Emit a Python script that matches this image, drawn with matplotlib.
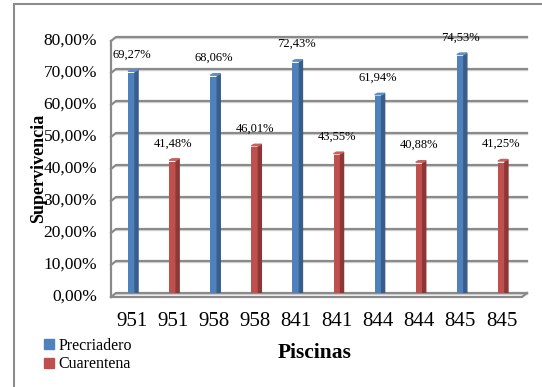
import numpy as np
import matplotlib
matplotlib.use("Agg")
import matplotlib.pyplot as plt
from matplotlib.patches import Polygon, Rectangle, Patch

piscinas = ["951", "951", "958", "958", "841", "841", "844", "844", "845", "845"]
precriadero = [69.27, np.nan, 68.06, np.nan, 72.43, np.nan, 61.94, np.nan, 74.53, np.nan]
cuarentena = [np.nan, 41.48, np.nan, 46.01, np.nan, 43.55, np.nan, 40.88, np.nan, 41.25]
y_ticks = [0, 10, 20, 30, 40, 50, 60, 70, 80]

colores = {
    "Precriadero": ("#4F81BD", "#385D8A", "#5F8FC8"),
    "Cuarentena": ("#C0504D", "#8A3735", "#CC605D"),
}

plt.rcParams["font.family"] = ["Liberation Serif", "DejaVu Serif"]

W, H, DPI = 542, 387, 100
fig = plt.figure(figsize=(W / DPI, H / DPI), dpi=DPI, facecolor="white")

# front plane of the 3d box: x 111..522 px, y (back wall) 37..293 px
ax_l, ax_r, ax_t, ax_b = 111, 522, 37, 293
ax = fig.add_axes([ax_l / W, (H - ax_b) / H, (ax_r - ax_l) / W, (ax_b - ax_t) / H])
ax.set_xlim(-0.5, len(piscinas) - 0.5)
ax.set_ylim(0, 80)
ax.axis("off")

# pixel -> data units
ux = len(piscinas) / (ax_r - ax_l)
uy = 80.0 / (ax_b - ax_t)
DX, DY = 5, 4  # wall depth in px
x0, x1 = -0.5, len(piscinas) - 0.5
grid_c = "#8a8a8a"

# back wall gridlines + side wall diagonals
for t in y_ticks:
    ax.plot([x0 + DX * ux, x1 + DX * ux], [t - 1.2 * uy, t - 1.2 * uy],
            color="#d6d6d6", lw=1.0, clip_on=False, zorder=1)
    ax.plot([x0, x0 + DX * ux, x1 + DX * ux], [t - DY * uy, t, t],
            color=grid_c, lw=1.6, clip_on=False, zorder=2)
    ax.text(x0 - 14 * ux, t - DY * uy, f"{t:.2f}%".replace(".", ","),
            ha="right", va="center", fontsize=12.5)

# front axis line and floor edge
ax.plot([x0, x0], [80 - DY * uy, -DY * uy], color=grid_c, lw=1.6, clip_on=False, zorder=2)
ax.plot([x0, x1, x1 + DX * ux], [-DY * uy, -DY * uy, 0],
        color=grid_c, lw=1.6, clip_on=False, zorder=2)

# bars with a shaded side and top face
bw = 7 * ux
sx, sy = 3 * ux, 1.5 * uy
for nombre, valores in (("Precriadero", precriadero), ("Cuarentena", cuarentena)):
    frente, lado, tapa = colores[nombre]
    for i, v in enumerate(valores):
        if np.isnan(v):
            continue
        ax.bar(i, v, width=bw, bottom=-1.5 * uy, color=frente, zorder=5)
        r = i + bw / 2
        ax.add_patch(Polygon([(r, -1.5 * uy), (r, v), (r + sx, v + sy), (r + sx, sy - 1.5 * uy)],
                             closed=True, color=lado, zorder=5))
        ax.add_patch(Polygon([(i - bw / 2, v), (r, v), (r + sx, v + sy), (i - bw / 2 + sx, v + sy)],
                             closed=True, color=tapa, zorder=5))
        ax.annotate(f"{v:.2f}%".replace(".", ","), (i, v), xytext=(0, 17),
                    textcoords="offset pixels", ha="center", va="center", fontsize=9)

# category labels under the floor
for i, p in enumerate(piscinas):
    ax.text(i, -29 * uy, p, ha="center", va="center", fontsize=15)

fig.text(39 / W, (H - 168) / H, "Supervivencia", rotation=90, ha="center", va="center",
         fontsize=13, fontweight="bold")
fig.text(315 / W, (H - 353) / H, "Piscinas", ha="center", va="center",
         fontsize=15.5, fontweight="bold")

handles = [Patch(color=colores[n][0], label=n) for n in ("Precriadero", "Cuarentena")]
fig.legend(handles=handles, loc="upper left", bbox_to_anchor=(44 / W, (H - 338) / H),
           frameon=False, fontsize=11.5, handlelength=0.6, handleheight=0.6,
           handletextpad=0.3, labelspacing=0.15, borderpad=0, borderaxespad=0)

# chart area border
fig.patches.append(Rectangle((14 / W, -0.05), 1.0, (H - 4) / H + 0.05,
                             transform=fig.transFigure, fill=False,
                             edgecolor="#8c8c8c", lw=1.5))

fig.savefig("out.png", dpi=DPI)
